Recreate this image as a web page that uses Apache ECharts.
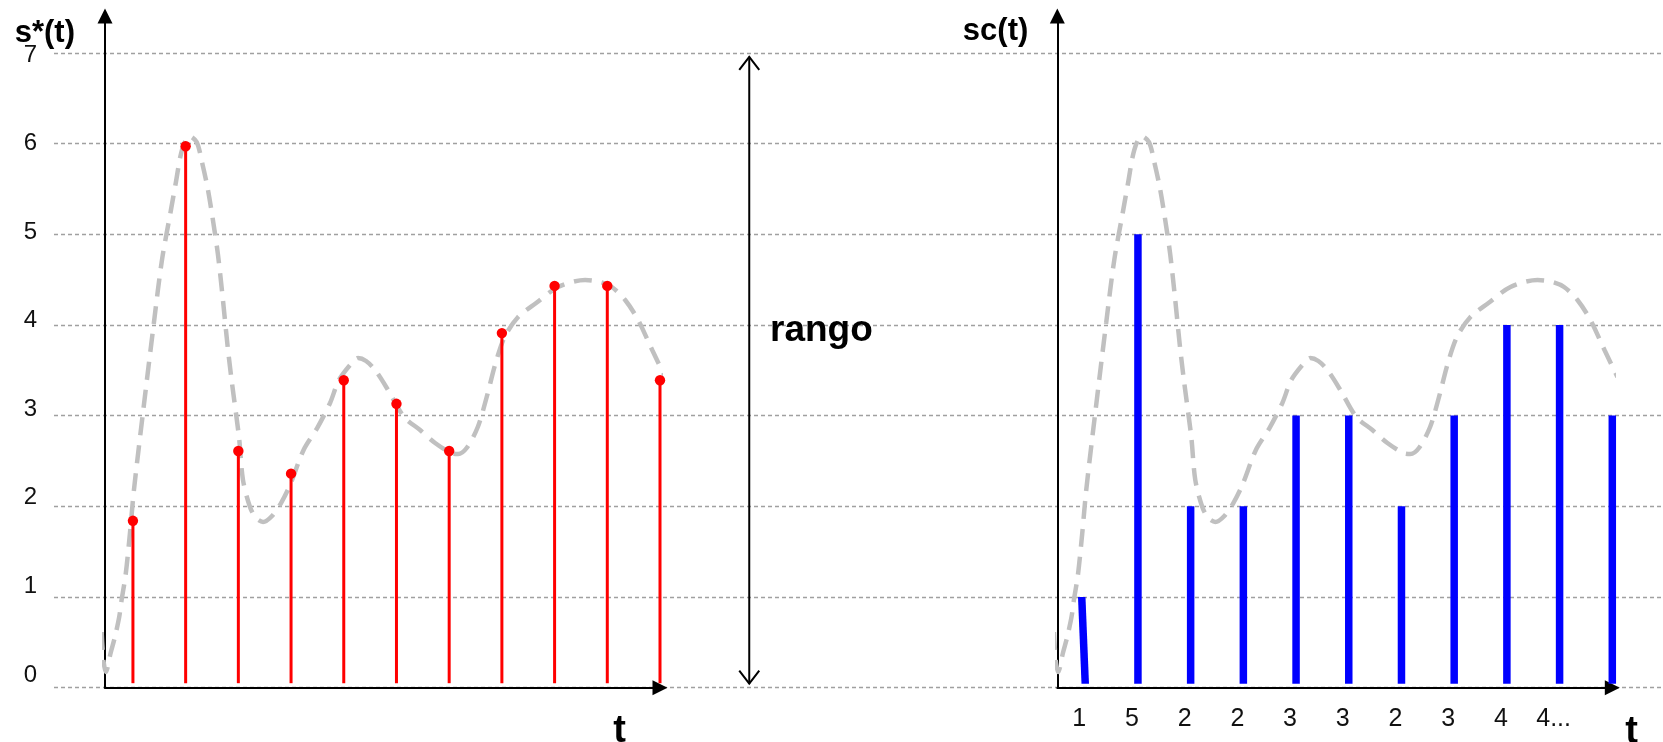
<!DOCTYPE html>
<html>
<head>
<meta charset="utf-8">
<script src="https://cdn.jsdelivr.net/npm/echarts@6/dist/echarts.min.js"></script>
<style>
  html, body { margin: 0; padding: 0; background: #ffffff; }
  #chart { width: 1663px; height: 742px; }
</style>
</head>
<body>
<div id="chart"></div>
<script>
// sampling instants, one per sampling period
const sampleT = [1, 2, 3, 4, 5, 6, 7, 8, 9, 10, 11];
// sampled signal s*(t)
const sampleValue = [1.84, 5.97, 2.61, 2.36, 3.39, 3.13, 2.61, 3.91, 4.43, 4.43, 3.39];
// quantized code sc(t)
const codeValue = [1, 5, 2, 2, 3, 3, 2, 3, 4, 4, 3];
// code sequence written under the t axis
const codeLabels = ['1', '5', '2', '2', '3', '3', '2', '3', '4', '4...'];
// amplitude tick labels
const yTicks = [0, 1, 2, 3, 4, 5, 6, 7];
// analog signal s(t) as (t, value) pairs
const curveT = [0.406, 0.44, 0.487, 0.577, 0.658, 0.74, 0.785, 0.861, 0.943, 1.019,
  1.19, 1.399, 1.551, 1.721, 1.816, 1.93, 2.069, 2.209, 2.31, 2.424,
  2.538, 2.614, 2.708, 2.798, 2.879, 3.012, 3.088, 3.221, 3.335, 3.468,
  3.639, 3.81, 3.981, 4.238, 4.493, 4.74, 4.91, 5.17, 5.271, 5.423,
  5.594, 5.841, 6.144, 6.448, 6.733, 7.036, 7.169, 7.331, 7.543, 7.712,
  7.881, 8.052, 8.308, 8.65, 9.068, 9.58, 9.865, 10.085, 10.339, 10.586,
  10.852, 11.098];
const curveV = [0.614, 0.305, 0.173, 0.383, 0.559, 0.78, 0.967, 1.243, 1.70, 2.18,
  3.03, 4.03, 4.716, 5.267, 5.576, 5.928, 6.083, 6.017, 5.796, 5.487,
  5.079, 4.771, 4.273, 3.756, 3.359, 2.764, 2.29, 1.992, 1.871, 1.827,
  1.893, 2.036, 2.235, 2.621, 2.86, 3.139, 3.393, 3.591, 3.635, 3.602,
  3.503, 3.282, 2.985, 2.841, 2.698, 2.588, 2.577, 2.643, 2.874, 3.205,
  3.58, 3.867, 4.087, 4.241, 4.418, 4.495, 4.473, 4.418, 4.275, 4.054,
  3.723, 3.426];
// full amplitude span marked by the double arrow
const rangeSpan = [0, 7];

const FONT = '"Liberation Sans", Arial, Helvetica, sans-serif';
const curvePoints = curveT.map((t, i) => [t, curveV[i]]);
const samplePoints = sampleT.map((t, i) => [t, sampleValue[i]]);
const codePoints = sampleT.map((t, i) => [t, codeValue[i]]);

// horizontal position of the "rango" arrow inside the background grid (0..1)
const RANGE_ARROW_X = 0.4321;

function arrowAxisLine() {
  return {
    show: true,
    symbol: ['none', 'triangle'],
    symbolSize: [15, 15],
    lineStyle: { color: '#000000', width: 2 }
  };
}

// vertical sample stem ending in a dot
function renderStem(params, api) {
  const top = api.coord([api.value(0), api.value(1)]);
  const base = api.coord([api.value(0), 0]);
  return {
    type: 'group',
    children: [
      { type: 'line', shape: { x1: top[0], y1: base[1] - 4.5, x2: top[0], y2: top[1] },
        style: { stroke: '#ff0000', lineWidth: 3 } },
      { type: 'circle', shape: { cx: top[0], cy: top[1], r: 5.2 },
        style: { fill: '#ff0000' } }
    ]
  };
}

// thick code bar (the first one is drawn slightly leaning)
function renderCode(params, api) {
  const top = api.coord([api.value(0), api.value(1)]);
  const base = api.coord([api.value(0), 0]);
  const w = 7.5;
  const lean = params.dataIndex === 0 ? -3.5 : 0;
  const yb = base[1] - 4;
  return {
    type: 'polygon',
    shape: { points: [
      [top[0] - w / 2 + lean, top[1]], [top[0] + w / 2 + lean, top[1]],
      [top[0] + w / 2, yb], [top[0] - w / 2, yb]
    ] },
    style: { fill: '#0000ff' }
  };
}

// double-headed arrow spanning the amplitude range
function renderRange(params, api) {
  const x = api.coord([RANGE_ARROW_X, 0])[0];
  const yLow = api.coord([RANGE_ARROW_X, api.value(0)])[1] - 4;
  const yHigh = api.coord([RANGE_ARROW_X, api.value(1)])[1] + 4;
  const st = { stroke: '#000000', lineWidth: 2, fill: null };
  return {
    type: 'group',
    children: [
      { type: 'line', shape: { x1: x, y1: yLow, x2: x, y2: yHigh }, style: st },
      { type: 'polyline', shape: { points: [[x - 10, yHigh + 13], [x, yHigh], [x + 10, yHigh + 13]] }, style: st },
      { type: 'polyline', shape: { points: [[x - 10, yLow - 13], [x, yLow], [x + 10, yLow - 13]] }, style: st }
    ]
  };
}

const chart = echarts.init(document.getElementById('chart'), null, { renderer: 'canvas' });

const dataYAxis = (name, gap, padRight) => ({
  type: 'value', min: 0, max: 7.406, position: 'left',
  axisLine: arrowAxisLine(),
  axisTick: { show: false }, axisLabel: { show: false }, splitLine: { show: false },
  name: name, nameLocation: 'end', nameGap: gap,
  nameTextStyle: { fontFamily: FONT, fontWeight: 'bold', fontSize: 31, color: '#000000',
    align: 'right', verticalAlign: 'middle', padding: [0, padRight, 0, 0] }
});

const tStyle = (align, padTop) => ({
  fontFamily: FONT, fontWeight: 'bold', fontSize: 38, color: '#000000',
  align: align, verticalAlign: 'top', padding: [padTop, 0, 0, 0]
});

chart.setOption({
  animation: false,
  backgroundColor: '#ffffff',
  grid: [
    { left: 54, right: 0, top: 52.8, height: 634.9, outerBoundsMode: 'none' },      // background gridlines
    { left: 105, width: 555, top: 16, height: 671.7, outerBoundsMode: 'none' },      // s*(t)
    { left: 1057.3, width: 555, top: 16, height: 671.7, outerBoundsMode: 'none' }    // sc(t)
  ],
  xAxis: [
    { gridIndex: 0, type: 'value', min: 0, max: 1, show: false },
    { gridIndex: 1, type: 'value', min: 0.47, max: 11,
      axisLine: arrowAxisLine(), axisTick: { show: false }, axisLabel: { show: false },
      splitLine: { show: false },
      name: 't', nameLocation: 'end', nameGap: -34, nameTextStyle: tStyle('right', 25) },
    { gridIndex: 2, type: 'value', min: 0.47, max: 11,
      axisLine: arrowAxisLine(), axisTick: { show: false },
      axisLabel: {
        show: true, customValues: sampleT.slice(0, codeLabels.length),
        formatter: (v) => codeLabels[Math.round(v) - 1],
        fontFamily: FONT, fontSize: 25, color: '#111111', margin: 19,
        padding: [0, 12, 0, 0]
      },
      splitLine: { show: false },
      name: 't', nameLocation: 'end', nameGap: 13, nameTextStyle: tStyle('left', 26) }
  ],
  yAxis: [
    { gridIndex: 0, type: 'value', min: 0, max: 7, interval: 1, position: 'left',
      axisLine: { show: false }, axisTick: { show: false }, axisLabel: { show: false },
      splitLine: { show: true, lineStyle: { color: '#a0a0a0', width: 1.3, type: [4, 3] } } },
    { gridIndex: 0, type: 'value', min: -0.1434, max: 7.025, position: 'left', offset: 0,
      axisLine: { show: false }, axisTick: { show: false }, splitLine: { show: false },
      axisLabel: { show: true, customValues: yTicks, fontFamily: FONT, fontSize: 24,
        color: '#111111', margin: 17 } },
    Object.assign(dataYAxis('s*(t)', -17, 30), { gridIndex: 1 }),
    Object.assign(dataYAxis('sc(t)', -15, 29), { gridIndex: 2 })
  ],
  series: [
    { type: 'line', name: 's(t)', xAxisIndex: 1, yAxisIndex: 2, data: curvePoints,
      smooth: 0.3, showSymbol: false, clip: false, z: 1,
      lineStyle: { color: '#c0c0c0', width: 4.5, type: [18, 10] } },
    { type: 'line', name: 's(t)', xAxisIndex: 2, yAxisIndex: 3, data: curvePoints,
      smooth: 0.3, showSymbol: false, clip: false, z: 1,
      lineStyle: { color: '#c0c0c0', width: 4.5, type: [18, 10] } },
    { type: 'custom', name: 's*(t)', xAxisIndex: 1, yAxisIndex: 2, data: samplePoints,
      renderItem: renderStem, z: 3 },
    { type: 'custom', name: 'sc(t)', xAxisIndex: 2, yAxisIndex: 3, data: codePoints,
      renderItem: renderCode, z: 3 },
    { type: 'custom', name: 'rango', xAxisIndex: 0, yAxisIndex: 0,
      data: [[rangeSpan[0], rangeSpan[1]]], renderItem: renderRange, z: 3 }
  ],
  graphic: [
    { type: 'text', left: 770, top: 312, z: 10,
      style: { text: 'rango', font: 'bold 37px ' + FONT, fill: '#000000' } }
  ]
});
</script>
</body>
</html>
